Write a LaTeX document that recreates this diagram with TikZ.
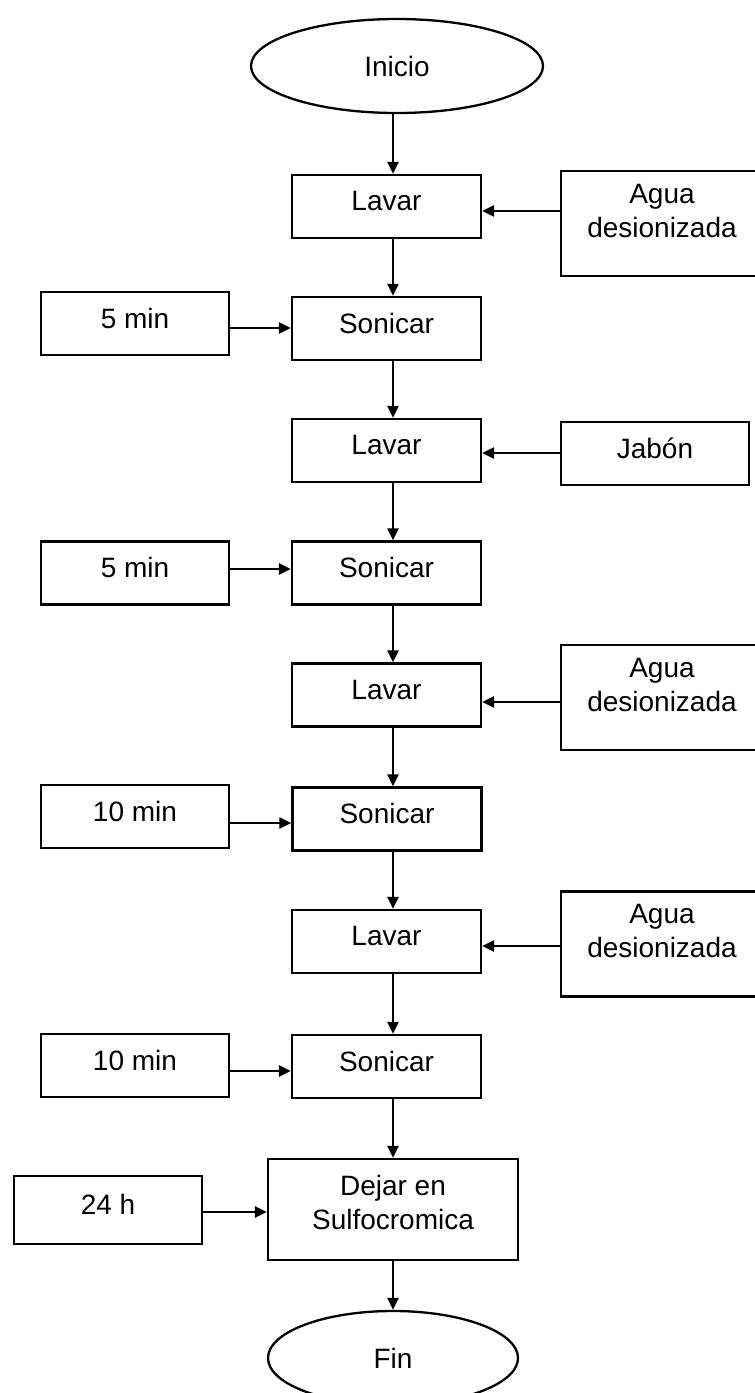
\documentclass[tikz,border=0pt]{standalone}
\usepackage{fontspec}
\setmainfont{Liberation Sans}
\usetikzlibrary{shapes.geometric,arrows.meta}

\begin{document}
\begin{tikzpicture}[x=1pt,y=-1pt,
  base/.style={draw=black, line width=2.3pt, inner sep=0pt,
    font=\fontsize{28}{34}\selectfont, align=center},
  lift/.style={execute at end node={\rule[-#1]{0pt}{0pt}}},
  term/.style={base, ellipse, minimum width=292, minimum height=94},
  stepbox/.style={base, rectangle, minimum width=189, minimum height=63, lift=11pt},
  sidebox/.style={base, rectangle, minimum width=188, minimum height=63, lift=11pt},
  waterbox/.style={base, rectangle, minimum width=202, minimum height=105, lift=26pt},
  bigbox/.style={base, rectangle, minimum width=250, minimum height=101, lift=14pt},
  arr/.style={line width=2.3pt, -{Triangle[length=12pt,width=11pt]}}]

\useasboundingbox (0,0) rectangle (755,1393);

% main column axis for the vertical connectors
\coordinate (axis) at (393,0);

\node[term] (inicio) at (397,66) {Inicio};

\node[stepbox] (lavar1) at (386.5,206.5) {Lavar};
\node[waterbox] (agua1) at (662,223.5) {Agua\\desionizada};

\node[sidebox] (min1) at (135,323.5) {5 min};
\node[stepbox] (son1) at (386.5,328.5) {Sonicar};

\node[stepbox] (lavar2) at (386.5,450.5) {Lavar};
\node[sidebox] (jabon) at (655,453.5) {Jabón};

\node[sidebox] (min2) at (135,573) {5 min};
\node[stepbox] (son2) at (386.5,573) {Sonicar};

\node[stepbox] (lavar3) at (386.5,695) {Lavar};
\node[waterbox] (agua2) at (662,697.5) {Agua\\desionizada};

\node[sidebox] (min3) at (135,816.5) {10 min};
\node[stepbox] (son3) at (387,819) {Sonicar};

\node[stepbox] (lavar4) at (386.5,941.5) {Lavar};
\node[waterbox] (agua3) at (662,944) {Agua\\desionizada};

\node[sidebox] (min4) at (135,1065.5) {10 min};
\node[stepbox] (son4) at (386.5,1066.5) {Sonicar};

\node[bigbox] (dejar) at (393,1209.5) {Dejar en\\Sulfocromica};
\node[sidebox, minimum height=68] (h24) at (108,1210) {24 h};

\node[term, minimum width=250] (fin) at (393,1358) {Fin};

% vertical flow
\draw[arr] (inicio.south -| axis) -- (lavar1.north -| axis);
\draw[arr] (lavar1.south -| axis) -- (son1.north -| axis);
\draw[arr] (son1.south -| axis) -- (lavar2.north -| axis);
\draw[arr] (lavar2.south -| axis) -- (son2.north -| axis);
\draw[arr] (son2.south -| axis) -- (lavar3.north -| axis);
\draw[arr] (lavar3.south -| axis) -- (son3.north -| axis);
\draw[arr] (son3.south -| axis) -- (lavar4.north -| axis);
\draw[arr] (lavar4.south -| axis) -- (son4.north -| axis);
\draw[arr] (son4.south -| axis) -- (dejar.north -| axis);
\draw[arr] (dejar.south -| axis) -- (fin.north -| axis);

% side inputs
\draw[arr] ([yshift=-4.5pt]lavar1.east -| agua1.west) -- ([yshift=-4.5pt]lavar1.east);
\draw[arr] ([yshift=0.5pt]son1.west -| min1.east) -- ([yshift=0.5pt]son1.west);
\draw[arr] ([yshift=-2.5pt]lavar2.east -| jabon.west) -- ([yshift=-2.5pt]lavar2.east);
\draw[arr] ([yshift=4pt]son2.west -| min2.east) -- ([yshift=4pt]son2.west);
\draw[arr] ([yshift=-7pt]lavar3.east -| agua2.west) -- ([yshift=-7pt]lavar3.east);
\draw[arr] ([yshift=-4pt]son3.west -| min3.east) -- ([yshift=-4pt]son3.west);
\draw[arr] ([yshift=-4.5pt]lavar4.east -| agua3.west) -- ([yshift=-4.5pt]lavar4.east);
\draw[arr] ([yshift=-4.5pt]son4.west -| min4.east) -- ([yshift=-4.5pt]son4.west);
\draw[arr] ([yshift=-2.5pt]dejar.west -| h24.east) -- ([yshift=-2.5pt]dejar.west);

\end{tikzpicture}
\end{document}
